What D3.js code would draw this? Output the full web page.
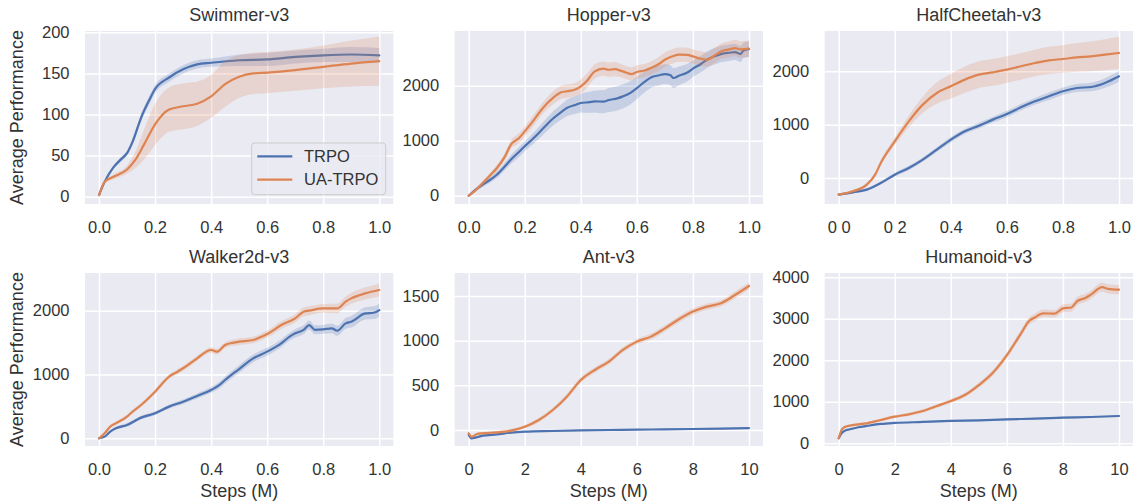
<!DOCTYPE html>
<html>
<head>
<meta charset="utf-8">
<script src="https://cdn.jsdelivr.net/npm/d3@7"></script>
<style>
  html, body { margin: 0; padding: 0; background: #ffffff; }
  svg { display: block; }
  text { font-family: "Liberation Sans", Arial, "DejaVu Sans", sans-serif; fill: #333333; }
</style>
</head>
<body>
<svg id="chart" width="1137" height="503"></svg>
<script>
// ---------------- DATA ----------------
const seriesNames = ["TRPO", "UA-TRPO"];
const panelTitles = ["Swimmer-v3", "Hopper-v3", "HalfCheetah-v3", "Walker2d-v3", "Ant-v3", "Humanoid-v3"];

// Swimmer
const swimmerTRPOx = [0,0.02,0.05,0.08,0.1,0.12,0.15,0.18,0.2,0.25,0.3,0.35,0.4,0.5,0.6,0.7,0.8,0.9,1.0];
const swimmerTRPOy = [2,18,35,46,53,67,96,118,131,145,155,161,163,166,167,170,172,173,172];
const swimmerTRPOerr = [1,2,2,3,3,4,5,5,5,5,5,5,5,7,8,8,8,9,9];
const swimmerUAx = [0,0.02,0.05,0.1,0.13,0.16,0.2,0.25,0.3,0.35,0.4,0.45,0.5,0.55,0.6,0.7,0.8,0.9,1.0];
const swimmerUAy = [2,18,24,33,45,63,88,106,110,113,122,137,146,150,151,154,158,162,165];
const swimmerUAerr = [1,2,3,5,10,18,25,27,28,27,26,28,26,25,25,25,26,28,30];

// Hopper
const hopperTRPOx = [0,0.02,0.05,0.08,0.1,0.13,0.15,0.18,0.2,0.23,0.25,0.28,0.3,0.33,0.35,0.38,0.4,0.43,0.45,0.48,0.5,0.53,0.55,0.58,0.6,0.63,0.65,0.68,0.7,0.72,0.73,0.75,0.78,0.8,0.83,0.85,0.88,0.9,0.93,0.95,0.97,0.98,1.0];
const hopperTRPOy = [0,90,200,300,380,540,655,800,900,1040,1140,1300,1400,1520,1594,1650,1685,1700,1715,1710,1740,1770,1806,1880,1958,2080,2150,2190,2212,2190,2140,2180,2240,2310,2400,2473,2540,2575,2600,2612,2575,2640,2667];
const hopperTRPOerr = [20,30,40,50,60,70,80,90,90,100,110,120,130,140,150,160,170,190,200,210,220,220,220,210,200,190,190,180,180,180,180,170,160,150,150,150,150,150,150,145,145,140,140];
const hopperUAx = [0,0.02,0.05,0.08,0.1,0.13,0.15,0.18,0.2,0.23,0.25,0.28,0.3,0.33,0.35,0.38,0.4,0.42,0.45,0.48,0.5,0.52,0.55,0.58,0.6,0.63,0.65,0.68,0.7,0.73,0.75,0.78,0.8,0.83,0.85,0.88,0.9,0.93,0.95,0.97,1.0];
const hopperUAy = [0,80,230,390,500,720,925,1050,1170,1360,1500,1680,1775,1880,1900,1930,1988,2079,2260,2309,2290,2300,2260,2212,2250,2280,2321,2400,2473,2540,2564,2560,2533,2490,2473,2560,2624,2660,2685,2660,2673];
const hopperUAerr = [20,30,40,50,60,70,80,90,90,100,100,110,120,120,120,120,130,130,130,130,130,130,120,120,120,120,120,130,130,130,130,130,130,130,130,140,140,150,150,150,150];

// HalfCheetah
const cheetahTRPOx = [0,0.05,0.1,0.15,0.2,0.25,0.3,0.35,0.4,0.45,0.5,0.55,0.6,0.65,0.7,0.75,0.8,0.85,0.9,0.95,1.0];
const cheetahTRPOy = [-312,-269,-219,-94,62,187,344,531,719,875,981,1094,1200,1325,1437,1531,1625,1687,1706,1781,1906];
const cheetahTRPOerr = [20,20,25,30,35,40,40,45,50,50,55,55,60,60,65,70,70,75,80,90,100];
const cheetahUAx = [0,0.05,0.1,0.13,0.15,0.2,0.25,0.3,0.35,0.4,0.45,0.5,0.55,0.6,0.65,0.7,0.75,0.8,0.85,0.9,0.95,1.0];
const cheetahUAy = [-312,-250,-125,62,281,687,1062,1375,1594,1719,1844,1937,1981,2031,2094,2156,2206,2231,2262,2281,2312,2344];
const cheetahUAerr = [20,25,30,40,50,70,110,150,200,230,245,250,250,250,250,250,255,260,270,280,290,300];

// Walker2d
const walkerTRPOx = [0,0.02,0.04,0.06,0.1,0.15,0.2,0.25,0.3,0.35,0.4,0.43,0.45,0.5,0.55,0.6,0.65,0.68,0.7,0.73,0.75,0.77,0.8,0.83,0.85,0.88,0.9,0.95,0.98,1.0];
const walkerTRPOy = [0,26,104,157,209,324,392,496,574,663,757,836,914,1086,1253,1358,1488,1593,1645,1700,1775,1700,1707,1723,1686,1801,1827,1958,1968,2010];
const walkerTRPOerr = [10,15,20,25,30,30,30,30,35,40,45,50,55,60,60,60,60,60,65,70,70,70,70,75,80,85,90,95,100,100];
const walkerUAx = [0,0.02,0.04,0.06,0.1,0.12,0.15,0.2,0.25,0.28,0.3,0.35,0.4,0.42,0.45,0.48,0.5,0.55,0.58,0.6,0.65,0.7,0.73,0.75,0.8,0.85,0.88,0.9,0.95,1.0];
const walkerUAy = [0,78,183,235,340,418,522,731,966,1044,1097,1253,1384,1358,1462,1499,1514,1540,1593,1634,1775,1880,1984,2000,2036,2036,2141,2193,2271,2324];
const walkerUAerr = [10,15,20,25,30,30,30,35,35,40,40,40,45,45,45,50,50,50,55,55,60,65,70,70,70,75,80,85,95,100];

// Ant
const antTRPOx = [0,0.1,0.5,1,1.5,2,3,4,5,6,7,8,9,10];
const antTRPOy = [-56,-93,-63,-49,-30,-19,-11,-4,0,4,7,11,15,22];
const antTRPOerr = [10,10,10,10,8,8,8,8,8,8,8,8,8,10];
const antUAx = [0,0.1,0.3,0.5,1,1.5,2,2.5,3,3.5,4,4.5,5,5.5,6,6.5,7,7.5,8,8.5,9,9.5,10];
const antUAy = [-37,-75,-45,-37,-26,-7,37,112,224,373,560,672,765,896,989,1045,1138,1239,1325,1381,1418,1511,1612];
const antUAerr = [15,15,15,15,15,20,20,25,25,30,30,30,30,30,30,35,35,35,35,35,35,40,40];

// Humanoid
const humanoidTRPOx = [0,0.1,0.2,0.4,0.7,1,1.5,2,3,4,5,6,7,8,9,10];
const humanoidTRPOy = [120,240,296,336,384,416,464,488,512,536,552,576,592,616,632,656];
const humanoidTRPOerr = [20,20,20,20,20,20,20,20,20,20,20,20,20,20,20,20];
const humanoidUAx = [0,0.1,0.2,0.4,0.7,1,1.5,2,2.5,3,3.5,4,4.5,5,5.5,6,6.5,6.8,7,7.3,7.7,8,8.3,8.5,8.8,9,9.4,9.6,10];
const humanoidUAy = [120,320,384,424,456,480,560,640,696,776,896,1016,1160,1400,1696,2120,2640,2950,3030,3130,3120,3250,3270,3420,3500,3580,3760,3720,3700];
const humanoidUAerr = [20,30,30,30,30,30,35,35,40,40,45,50,55,60,70,80,90,90,90,90,90,95,95,100,100,100,110,110,110];

// Tick labels
const xTicksUnit = [0, 0.2, 0.4, 0.6, 0.8, 1.0];
const xTickLabelsUnit = ["0.0", "0.2", "0.4", "0.6", "0.8", "1.0"];
const xTickLabelsCheetah = ["0 0", "0 2", "0.4", "0.6", "0.8", "1.0"];
const xTicksTen = [0, 2, 4, 6, 8, 10];
const xTickLabelsTen = ["0", "2", "4", "6", "8", "10"];
const yTicksSwimmer = [0, 50, 100, 150, 200];
const yTicksHopper = [0, 1000, 2000];
const yTicksCheetah = [0, 1000, 2000];
const yTicksWalker = [0, 1000, 2000];
const yTicksAnt = [0, 500, 1000, 1500];
const yTicksHumanoid = [0, 1000, 2000, 3000, 4000];

// ---------------- LAYOUT / STYLE ----------------
const colors = ["#4c72b0", "#dd8452"];
const colLeft = [85, 454.7, 824.7];
const rowTop = [31, 273];
const W = 308.3, H = 173;

const panels = [
  { xd: [-0.05, 1.05], yd: [-8.9, 201.6], xt: xTicksUnit, xl: xTickLabelsUnit, yt: yTicksSwimmer,
    s: [[swimmerTRPOx, swimmerTRPOy, swimmerTRPOerr], [swimmerUAx, swimmerUAy, swimmerUAerr]] },
  { xd: [-0.05, 1.05], yd: [-151, 2995], xt: xTicksUnit, xl: xTickLabelsUnit, yt: yTicksHopper,
    s: [[hopperTRPOx, hopperTRPOy, hopperTRPOerr], [hopperUAx, hopperUAy, hopperUAerr]] },
  { xd: [-0.05, 1.05], yd: [-488, 2756], xt: xTicksUnit, xl: xTickLabelsCheetah, yt: yTicksCheetah,
    s: [[cheetahTRPOx, cheetahTRPOy, cheetahTRPOerr], [cheetahUAx, cheetahUAy, cheetahUAerr]] },
  { xd: [-0.05, 1.05], yd: [-121, 2591], xt: xTicksUnit, xl: xTickLabelsUnit, yt: yTicksWalker,
    s: [[walkerTRPOx, walkerTRPOy, walkerTRPOerr], [walkerUAx, walkerUAy, walkerUAerr]] },
  { xd: [-0.5, 10.5], yd: [-179, 1757], xt: xTicksTen, xl: xTickLabelsTen, yt: yTicksAnt,
    s: [[antTRPOx, antTRPOy, antTRPOerr], [antUAx, antUAy, antUAerr]] },
  { xd: [-0.5, 10.5], yd: [-67, 4101], xt: xTicksTen, xl: xTickLabelsTen, yt: yTicksHumanoid,
    s: [[humanoidTRPOx, humanoidTRPOy, humanoidTRPOerr], [humanoidUAx, humanoidUAy, humanoidUAerr]] }
];

const svg = d3.select("#chart");
const tickFont = "16.5px", labelFont = "18px";

panels.forEach((p, i) => {
  const col = i % 3, row = Math.floor(i / 3);
  const g = svg.append("g").attr("transform", `translate(${colLeft[col]},${rowTop[row]})`);
  const x = d3.scaleLinear().domain(p.xd).range([0, W]);
  const y = d3.scaleLinear().domain(p.yd).range([H, 0]);

  g.append("rect").attr("width", W).attr("height", H).attr("fill", "#eaeaf2");

  const clipId = "clip" + i;
  g.append("clipPath").attr("id", clipId).append("rect").attr("width", W).attr("height", H);

  // x axis + vertical grid
  const xa = g.append("g").attr("transform", `translate(0,${H})`)
    .call(d3.axisBottom(x).tickValues(p.xt).tickSize(-H).tickPadding(17)
      .tickFormat((d, k) => p.xl[k]));
  xa.select(".domain").remove();
  xa.selectAll("line").attr("stroke", "#ffffff").attr("stroke-width", 1.5);
  xa.selectAll("text").style("font-size", tickFont).attr("fill", "#333333");

  // y axis + horizontal grid
  const ya = g.append("g")
    .call(d3.axisLeft(y).tickValues(p.yt).tickSize(-W).tickPadding(15.5).tickFormat(d3.format("d")));
  ya.select(".domain").remove();
  ya.selectAll("line").attr("stroke", "#ffffff").attr("stroke-width", 1.5);
  ya.selectAll("text").style("font-size", tickFont).attr("fill", "#333333");

  const plot = g.append("g").attr("clip-path", `url(#${clipId})`);
  p.s.forEach((ser, k) => {
    const [xs, ys, es] = ser;
    const idx = d3.range(xs.length);
    const area = d3.area().curve(d3.curveMonotoneX)
      .x(j => x(xs[j])).y0(j => y(ys[j] - es[j])).y1(j => y(ys[j] + es[j]));
    const line = d3.line().curve(d3.curveMonotoneX)
      .x(j => x(xs[j])).y(j => y(ys[j]));
    plot.append("path").datum(idx).attr("d", area)
      .attr("fill", colors[k]).attr("fill-opacity", 0.22).attr("stroke", "none");
    plot.append("path").datum(idx).attr("d", line)
      .attr("fill", "none").attr("stroke", colors[k]).attr("stroke-width", 2.2)
      .attr("stroke-linejoin", "round").attr("stroke-linecap", "round");
  });

  // title
  g.append("text").attr("x", W / 2).attr("y", -10).attr("text-anchor", "middle")
    .style("font-size", labelFont).text(panelTitles[i]);

  if (row === 1) {
    g.append("text").attr("x", W / 2).attr("y", H + 50.5).attr("text-anchor", "middle")
      .style("font-size", labelFont).text("Steps (M)");
  }
  if (col === 0) {
    svg.append("text")
      .attr("transform", `translate(22.5,${rowTop[row] + H / 2}) rotate(-90)`)
      .attr("text-anchor", "middle").style("font-size", labelFont)
      .text("Average Performance");
  }

  if (i === 0) {
    const lg = g.append("g").attr("transform", `translate(${251.7 - colLeft[0]},${143 - rowTop[0]})`);
    lg.append("rect").attr("width", 134).attr("height", 51.7).attr("rx", 3)
      .attr("fill", "#eaeaf2").attr("fill-opacity", 0.8).attr("stroke", "#cccccc").attr("stroke-width", 1);
    seriesNames.forEach((name, k) => {
      const yy = 13.3 + k * 23.4;
      lg.append("line").attr("x1", 5.6).attr("x2", 40.6).attr("y1", yy).attr("y2", yy)
        .attr("stroke", colors[k]).attr("stroke-width", 2.2);
      lg.append("text").attr("x", 52.3).attr("y", yy).attr("dy", "0.35em")
        .style("font-size", tickFont).text(name);
    });
  }
});
</script>
</body>
</html>
